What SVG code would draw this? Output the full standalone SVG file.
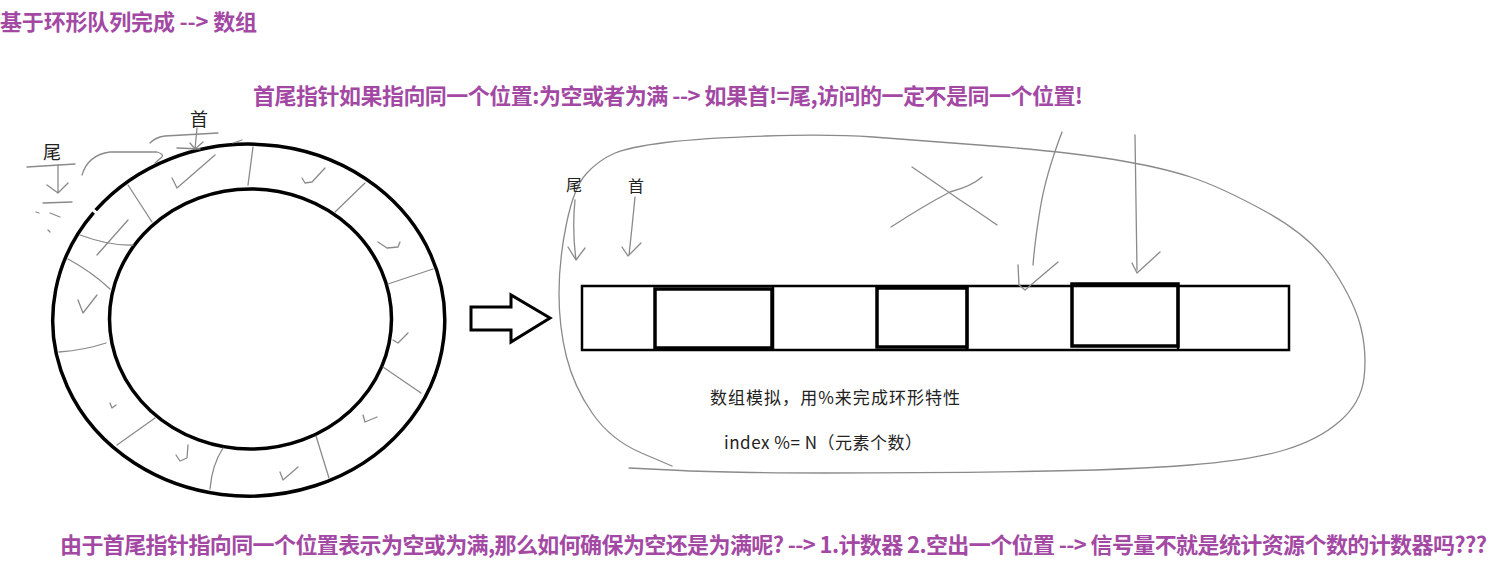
<svg xmlns="http://www.w3.org/2000/svg" width="1503" height="561" viewBox="0 0 1503 561">
<style>
.title{font-family:"Noto Sans CJK SC","Liberation Sans",sans-serif;font-weight:700;font-size:22px;fill:#a349a4}
.lbl{font-family:"Noto Sans CJK SC","Liberation Sans",sans-serif;font-size:18px;fill:#222}
.note{font-family:"Noto Sans CJK SC","Liberation Sans",sans-serif;font-size:17px;fill:#222}
.ring{fill:none;stroke:#000;stroke-width:3.5}
.pen{fill:none;stroke:#8a8a8a;stroke-width:1.3;stroke-linecap:round;stroke-linejoin:round}
.cell{fill:#fff;stroke:#000;stroke-width:2.5}
.bold{fill:none;stroke:#000;stroke-width:3.5}
</style>
<rect width="1503" height="561" fill="#fff"/>

<g id="titles">
<text class="title" x="0" y="30" textLength="257">基于环形队列完成 --&gt; 数组</text>
<text class="title" x="253" y="104" textLength="830">首尾指针如果指向同一个位置:为空或者为满 --&gt; 如果首!=尾,访问的一定不是同一个位置!</text>
<text class="title" x="60" y="553" textLength="1427">由于首尾指针指向同一个位置表示为空或为满,那么如何确保为空还是为满呢? --&gt; 1.计数器 2.空出一个位置 --&gt; 信号量不就是统计资源个数的计数器吗???</text>
</g>

<g id="ring">
<path class="ring" d="M95.7,210.2 A196,176 0 1 1 93.6,212.6"/>
<ellipse class="ring" cx="250.5" cy="319" rx="141" ry="130"/>
<g class="pen">
<path d="M253,147 L248,185"/>
<path d="M365,183 L335,212"/>
<path d="M433,269 L388,284"/>
<path d="M383,367 L421,393"/>
<path d="M316,436 L329,478"/>
<path d="M223,448 Q212,465 210,489"/>
<path d="M155,418 L117,445"/>
<path d="M59,352 Q85,350 106,343"/>
<path d="M68,259 Q92,272 110,289"/>
<path d="M80,235 Q110,246 133,245"/>
<path d="M128,220 L97,255"/>
<path d="M128,185 L152,222"/>
<path d="M172,178 L177,188 L215,155"/>
<path d="M302,178 L305,183 L312,182 L325,168"/>
<path d="M378,242 L387,248 L398,247 L400,242"/>
<path d="M393,340 L398,343 L408,333"/>
<path d="M363,415 L365,422 L377,417"/>
<path d="M280,472 L283,480 L298,467"/>
<path d="M188,445 L187,458 L180,461 L176,455"/>
<path d="M110,403 L112,408 L116,405"/>
<path d="M78,300 L83,313 L97,295"/>
<path d="M233,143 L242,140"/>
</g>
<text class="lbl" x="52" y="159" text-anchor="middle">尾</text>
<text class="lbl" x="199" y="126" text-anchor="middle">首</text>
</g>

<g id="big-arrow">
<path d="M471,307 L511,307 L511,295 L550,318 L511,342 L511,330 L471,330 Z" fill="#fff" stroke="#000" stroke-width="3" stroke-linejoin="miter"/>
</g>

<g id="blob">
<path class="pen" d="M672,466 L641.5,453 Q611,440 592.5,413.5 Q574,387 566.5,357 Q559,327 559,293.5 Q559,260 566.5,223.5 Q574,187 586.5,173.5 Q599,160 614,153.5 Q629,147 665.5,142.5 Q702,138 766,136 Q830,134 873,137 Q916,140 992,146 Q1068,152 1114,159.5 Q1160,167 1190.5,177 Q1221,187 1266.5,212 Q1312,237 1333.5,270 Q1355,303 1361,328 Q1367,353 1364,378 Q1361,403 1339.5,421.5 Q1318,440 1284.5,450 Q1251,460 1190,465 Q1129,470 1022.5,471.5 Q916,473 824.5,473 Q733,473 681,470.5 L629,468"/>
<path class="pen" d="M912,167 Q940,186 960,200 Q980,213 997,225"/>
<path class="pen" d="M891,227 Q925,205 950,192 Q972,186 982,177"/>
</g>

<g id="array">
<rect class="cell" x="582" y="286" width="707" height="64"/>
<g stroke="#000" stroke-width="2.5">
<line x1="773" y1="286" x2="773" y2="350"/>
<line x1="967" y1="286" x2="967" y2="350"/>
<line x1="1178" y1="286" x2="1178" y2="350"/>
</g>
<rect class="bold" x="655" y="289" width="117" height="59"/>
<rect class="bold" x="877" y="288" width="90" height="59"/>
<rect class="bold" x="1072" y="284" width="106" height="62"/>
<text class="note" x="710" y="404" textLength="250">数组模拟，用%来完成环形特性</text>
<text class="note" x="724" y="449" textLength="198">index %= N（元素个数）</text>
<text class="lbl" x="574" y="191" text-anchor="middle" style="font-size:16px">尾</text>
<text class="lbl" x="636" y="192" text-anchor="middle" style="font-size:16px">首</text>
</g>

<g id="connectors" class="pen">
<path d="M27,167 L75,164"/>
<path d="M58,165 L58,193 M47,185 L58,193 L68,183"/>
<path d="M43,203 L72,202 M36,212 L39,213 M50,213 L60,217 M48,230 L50,232"/>
<path d="M82,175 Q88,155 110,152 L157,152 Q164,154 162,157 L155,163"/>
<path d="M150,143 Q156,137 165,136 L218,133"/>
<path d="M197,128 L195,149 M190,143 L195,149 L203,142"/>
<path d="M177,148 L200,149"/>
<path d="M575,200 Q572,230 576,260 M568,247 L576,260 L585,248"/>
<path d="M635,197 Q632,228 629,255 M622,247 L628,256 L641,243"/>
<path d="M1062,132 Q1045,177 1040,210 Q1035,240 1033,265"/>
<path d="M1018,265 L1019,285 L1025,290 L1058,262"/>
<path d="M1135,135 L1137,270"/>
<path d="M1132,263 L1137,273 L1160,252"/>
</g>
</svg>
